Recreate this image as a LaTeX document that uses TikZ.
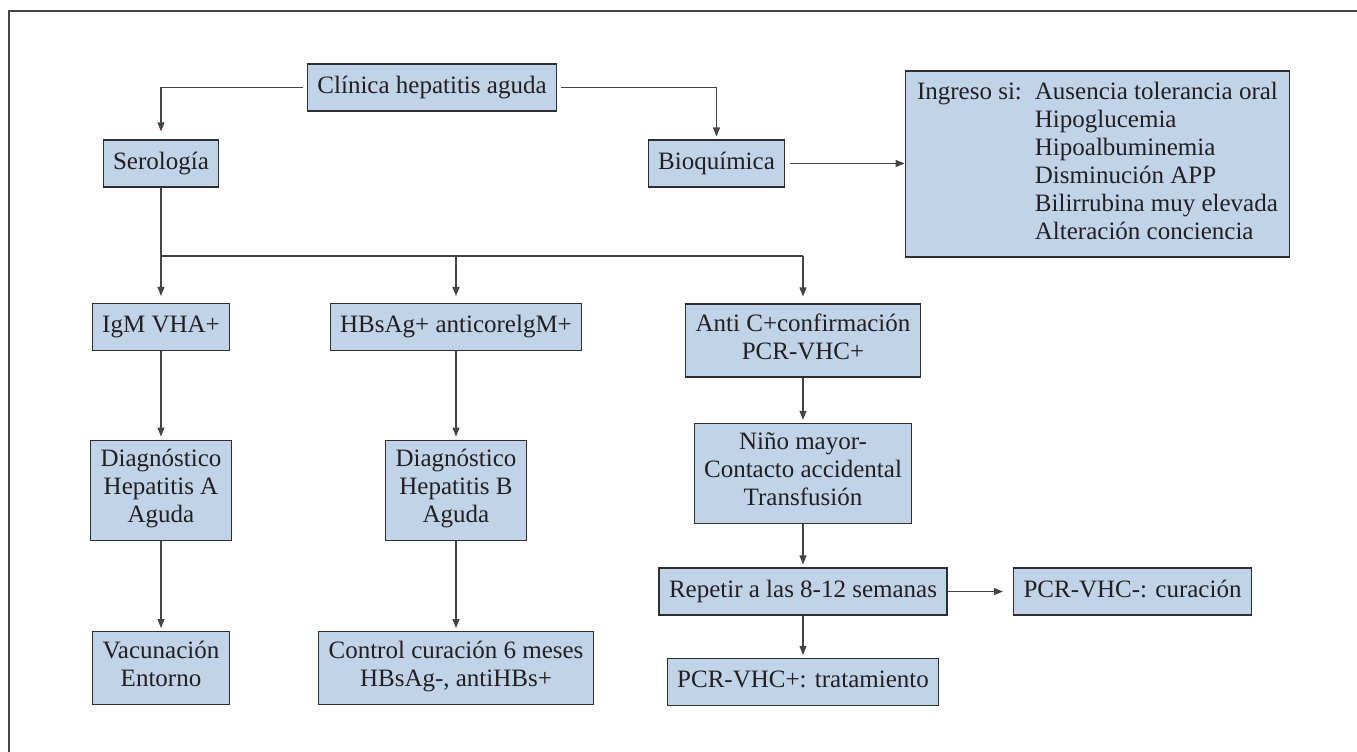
\documentclass[tikz,border=0pt]{standalone}
\usepackage{fontspec}
\setmainfont{Liberation Serif}
\usetikzlibrary{arrows.meta}

\definecolor{boxfill}{HTML}{C0D3E8}
\definecolor{boxline}{HTML}{2E2E2E}
\definecolor{linkgray}{HTML}{454545}
\definecolor{inkdark}{HTML}{231F20}

\tikzstyle{chart box} = [draw=boxline, fill=boxfill, line width=1.1pt, text=inkdark,
  font=\fontsize{25}{28}\selectfont, align=center, inner xsep=10pt, inner ysep=9.5pt,
  execute at begin node=\strut, execute at end node=\strut]
\tikzstyle{flow line} = [draw, linkgray, line width=1.1pt]
\tikzstyle{flow arrow} = [flow line, -{Triangle[length=9pt,width=7pt]}, shorten >=3pt]
\tikzstyle{page rule} = [draw, linkgray, line width=1.4pt]

\def\boxes{{(432,87.5)/clinica/Clínica hepatitis aguda},
  {(161,163.5)/serologia/Serología}, {(716.5,163.5)/bioquimica/Bioquímica},
  {(161,327)/igm/IgM VHA+}, {(456,327)/hbs/HBsAg+ anticorelgM+},
  {(803,340.5)/antic/{Anti C+confirmación\\PCR-VHC+}},
  {(161,490.5)/diaga/{Diagnóstico\\Hepatitis A\\Aguda}},
  {(456,490.5)/diagb/{Diagnóstico\\Hepatitis B\\Aguda}},
  {(803,473.5)/nino/{Niño mayor-\\Contacto accidental\\Transfusión}},
  {(161,668)/vacuna/{Vacunación\\Entorno}},
  {(456,668)/control/{Control curación 6 meses\\HBsAg-, antiHBs+}},
  {(803,591.5)/repetir/Repetir a las 8-12 semanas},
  {(1132.5,591.5)/pcrneg/PCR-VHC-: curación},
  {(803,682)/pcrpos/PCR-VHC+: tratamiento}}
\def\connect{igm/diaga, diaga/vacuna, hbs/diagb, diagb/control, antic/nino, nino/repetir, repetir/pcrpos}

\begin{document}
\begin{tikzpicture}[x=1pt, y=-1pt]
  \useasboundingbox (0,0) rectangle (1357,752);

  % rule along the top and the left side
  \path[page rule] (9,752) -- (9,11) -- (1357,11);

  \foreach \pos/\name/\txt in \boxes {
    \node[chart box] (\name) at \pos {\txt};
    }

  \node[chart box, inner xsep=12pt, inner ysep=9pt,
    execute at begin node={}, execute at end node={}] (ingreso) at (1097.5,164) {%
    \begin{tabular}{@{}l@{\hspace{13pt}}l@{}}
      Ingreso si: & Ausencia tolerancia oral\\
                  & Hipoglucemia\\
                  & Hipoalbuminemia\\
                  & Disminución APP\\
                  & Bilirrubina muy elevada\\
                  & Alteración conciencia
    \end{tabular}};

  % first split
  \path[flow arrow, shorten <=4pt, shorten >=8pt] (clinica.west) -| (serologia.north);
  \path[flow arrow, shorten <=4pt] (clinica.east) -| (bioquimica.north);
  \path[flow arrow, shorten <=5pt, shorten >=0pt] (bioquimica.east) -- (bioquimica.east -| ingreso.west);

  % serology branches
  \coordinate (bus) at (161,256);
  \path[flow line] (serologia.south) -- (bus) -- (bus -| antic.north);
  \foreach \sink in {igm, hbs, antic}
    \path[flow arrow, shorten >=7pt] (bus -| \sink.north) -- (\sink.north);

  \foreach \source/\sink in \connect {
    \path[flow arrow] (\source.south) -- (\sink.north);
    }

  \path[flow arrow, shorten >=10pt] (repetir.east) -- (pcrneg.west);

\end{tikzpicture}
\end{document}
